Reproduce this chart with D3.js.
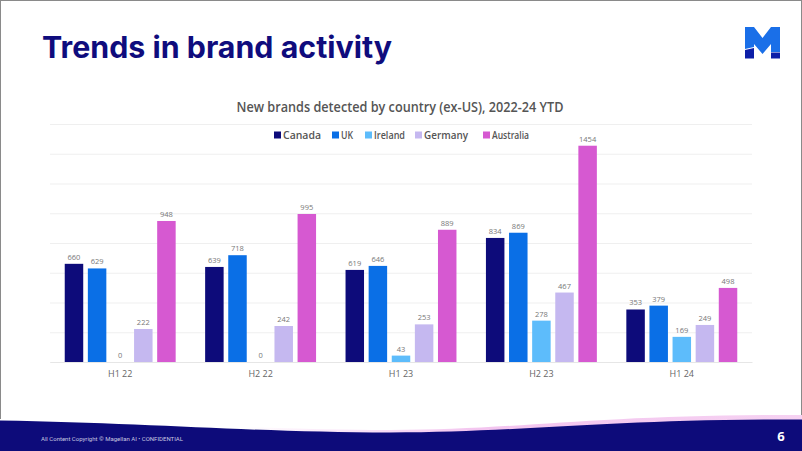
<!DOCTYPE html>
<html><head><meta charset="utf-8">
<script src="https://cdn.jsdelivr.net/npm/d3@7"></script>
<style>body{margin:0;background:#fff;}svg{display:block;}</style>
</head><body>
<svg id="c" width="802" height="451"></svg>
<script>
const periods = ["H1 22","H2 22","H1 23","H2 23","H1 24"];
const countries = ["Canada","UK","Ireland","Germany","Australia"];
const canada    = [660, 639, 619, 834, 353];
const uk        = [629, 718, 646, 869, 379];
const ireland   = [0, 0, 43, 278, 169];
const germany   = [222, 242, 253, 467, 249];
const australia = [948, 995, 889, 1454, 498];
const yTicks = [0,200,400,600,800,1000,1200,1400,1600];
const colors = ["#0d0b7a","#0a6fe6","#5dbcfb","#c5b8f0","#d659d1"];

const seriesVals = [canada, uk, ireland, germany, australia];
const data = periods.map((p,i)=>({period:p, values: countries.map((c,j)=>({country:c, value: seriesVals[j][i], color: colors[j]}))}));

const svg = d3.select("#c");
const font = "'Open Sans', 'DejaVu Sans', sans-serif";

// slide border
svg.append("rect").attr("x",0.5).attr("y",0.5).attr("width",801).attr("height",450)
  .attr("fill","#fff").attr("stroke","#8a8a8a").attr("stroke-width",1);

// Title
svg.append("text").attr("x",42).attr("y",58).text("Trends in brand activity")
  .attr("font-family","Inter, 'Open Sans', sans-serif").attr("font-weight",700)
  .attr("font-size",30).attr("fill","#0f0c7d")
  .attr("textLength",350).attr("lengthAdjust","spacingAndGlyphs");

// Logo
const logo = svg.append("g");
logo.append("path").attr("d","M745,27 L754,27 L762.5,38 L771,27 L780,27 L780,52 L771,52 L771,44 L762.5,54 L754,44 L754,47 L745,49 Z").attr("fill","#1a6fe8");
logo.append("path").attr("d","M745,50 L754,48 L754,58.5 L745,58.5 Z").attr("fill","#0d1fa8");
logo.append("path").attr("d","M771,52.5 L780,52.5 L780,58.5 L771,58.5 Z").attr("fill","#0d1fa8");

// Chart title
svg.append("text").attr("x",400).attr("y",112).attr("text-anchor","middle")
  .text("New brands detected by country (ex-US), 2022-24 YTD")
  .attr("font-family",font).attr("font-weight",600).attr("font-size",13.5).attr("fill","#555")
  .attr("textLength",327).attr("lengthAdjust","spacingAndGlyphs");

// Legend
const legendX = [283, 341, 374, 424, 492];
const legendW = [38, 12, 31, 44, 37];
const lg = svg.append("g");
countries.forEach((c,i)=>{
  lg.append("rect").attr("x",legendX[i]-9).attr("y",131.5).attr("width",7).attr("height",7).attr("fill",colors[i]);
  lg.append("text").attr("x",legendX[i]).attr("y",138.5).text(c)
    .attr("font-family",font).attr("font-weight",600).attr("font-size",10).attr("fill","#555")
    .attr("textLength",legendW[i]).attr("lengthAdjust","spacingAndGlyphs");
});

// Scales
const m = {left:50, right:752, top:124, bottom:362};
const y = d3.scaleLinear().domain([0,1600]).range([m.bottom, m.top]);
const x0 = d3.scaleBand().domain(periods).range([m.left, m.right]).paddingInner(0.177).paddingOuter(0.0885);
const x1 = d3.scaleBand().domain(countries).range([0, x0.bandwidth()]).paddingInner(0.2).paddingOuter(0.1);

// gridlines
svg.append("g").attr("transform",`translate(${m.left},0)`)
  .call(d3.axisLeft(y).tickValues(yTicks).tickSize(-(m.right-m.left)).tickFormat(""))
  .call(g=>g.select(".domain").remove())
  .call(g=>g.selectAll(".tick line").attr("stroke","#efefef").attr("stroke-width",1));

// x axis
svg.append("g").attr("transform",`translate(0,${m.bottom})`)
  .call(d3.axisBottom(x0).tickSize(0).tickPadding(9))
  .call(g=>g.select(".domain").attr("stroke","#e6e6e6"))
  .call(g=>g.selectAll("text").attr("font-family",font).attr("font-size",9).attr("fill","#666"));

// bars
const grp = svg.append("g").selectAll("g").data(data).join("g")
  .attr("transform",d=>`translate(${x0(d.period)},0)`);
grp.selectAll("rect").data(d=>d.values).join("rect")
  .attr("x",d=>x1(d.country)).attr("width",x1.bandwidth())
  .attr("y",d=>y(d.value)).attr("height",d=>y(0)-y(d.value))
  .attr("fill",d=>d.color);
grp.selectAll("text").data(d=>d.values).join("text")
  .attr("x",d=>x1(d.country)+x1.bandwidth()/2).attr("y",d=>y(d.value)-4)
  .attr("text-anchor","middle").text(d=>d.value)
  .attr("font-family",font).attr("font-size",7.5).attr("fill","#777");

// footer
const defs = svg.append("defs");
const gr = defs.append("linearGradient").attr("id","pk").attr("x1","0").attr("x2","1").attr("y1","0").attr("y2","0");
gr.append("stop").attr("offset","0.3").attr("stop-color","#ffffff");
gr.append("stop").attr("offset","0.6").attr("stop-color","#f3c4ef");
gr.append("stop").attr("offset","1").attr("stop-color","#f6d2f2");
svg.append("path").attr("d","M0,419 C150,421 260,430 390,430 C520,430 600,414 802,415 L802,451 L0,451 Z").attr("fill","url(#pk)");
svg.append("path").attr("d","M0,420.5 C150,423 260,432.5 390,432.5 C520,432.5 610,419 802,419.5 L802,451 L0,451 Z").attr("fill","#0d0b7a");
svg.append("text").attr("x",41).attr("y",441).text("All Content Copyright © Magellan AI • CONFIDENTIAL")
  .attr("font-family","Roboto, sans-serif").attr("font-size",6).attr("fill","#c8c8e0");
svg.append("text").attr("x",781).attr("y",441).attr("text-anchor","middle").text("6")
  .attr("font-family",font).attr("font-weight",700).attr("font-size",13).attr("fill","#fff");
</script>
</body></html>
